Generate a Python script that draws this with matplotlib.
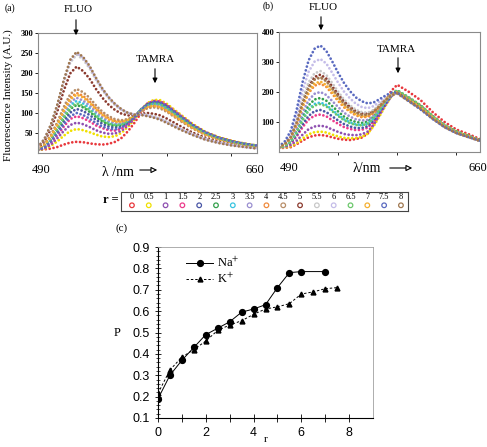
import numpy as np
import matplotlib
matplotlib.use('Agg')
import matplotlib.pyplot as plt

plt.rcParams['font.family'] = 'serif'
plt.rcParams['font.serif'] = ['Liberation Serif', 'DejaVu Serif']
plt.rcParams['mathtext.fontset'] = 'stix'

# wavelength grid (nm) the spectra were read at
wl = [490, 495, 500, 505, 510, 515, 520, 525, 530, 535, 540, 545, 550, 555,
      560, 565, 570, 575, 580, 585, 590, 600, 610, 620, 630, 640, 650, 660]

r_labels = ['0', '0.5', '1', '1.5', '2', '2.5', '3', '3.5', '4', '4.5',
            '5', '5.5', '6', '6.5', '7', '7.5', '8']
r_colors = ['#e8383d', '#f0e000', '#8e4fb0', '#ec3c8c', '#4a56a6', '#34a04c',
            '#38c4e0', '#9a8fd0', '#f08a3c', '#b88e68', '#8b3a2e', '#c8c8c8',
            '#c4bce8', '#6cc86c', '#f5b030', '#5a6ac0', '#a07850']

# panel (a) spectra, one list per r
a_0 = [8, 9, 11, 15, 21, 26, 28, 27, 24, 22, 21, 23, 28, 38, 55, 76, 100, 118, 128, 127, 119, 95, 70, 51, 39, 30, 23, 18]
a_05 = [6, 10, 18, 29, 43, 55, 60, 57, 52, 46, 41, 40, 42, 51, 66, 85, 107, 125, 133, 132, 123, 98, 73, 53, 40, 31, 24, 19]
a_1 = [7, 11, 21, 37, 55, 70, 76, 72, 65, 57, 51, 48, 49, 56, 69, 86, 107, 123, 130, 128, 120, 95, 71, 52, 39, 30, 23, 18]
a_15 = [8, 13, 26, 44, 66, 85, 92, 87, 79, 69, 62, 57, 56, 61, 73, 90, 109, 124, 130, 129, 120, 95, 71, 52, 39, 30, 23, 18]
a_2 = [8, 15, 31, 53, 79, 101, 110, 105, 95, 83, 73, 66, 64, 67, 77, 91, 109, 122, 128, 125, 117, 92, 69, 51, 38, 29, 23, 18]
a_25 = [9, 17, 34, 58, 86, 110, 120, 114, 103, 90, 79, 71, 68, 70, 79, 92, 108, 121, 125, 123, 114, 90, 68, 50, 37, 29, 22, 17]
a_3 = [9, 18, 36, 62, 94, 120, 130, 124, 112, 97, 85, 76, 72, 73, 81, 93, 108, 119, 123, 121, 112, 89, 67, 49, 37, 28, 22, 17]
a_35 = [9, 19, 39, 66, 99, 127, 138, 131, 119, 103, 90, 80, 75, 75, 82, 93, 107, 117, 121, 118, 109, 86, 65, 48, 36, 27, 21, 17]
a_4 = [9, 21, 42, 72, 108, 138, 150, 143, 129, 112, 97, 87, 80, 79, 84, 93, 105, 114, 117, 114, 105, 83, 63, 46, 34, 27, 21, 16]
a_45 = [10, 22, 45, 77, 115, 147, 160, 152, 138, 119, 103, 92, 84, 82, 85, 93, 104, 112, 114, 111, 103, 81, 61, 45, 34, 26, 20, 16]
a_5 = [13, 30, 60, 104, 156, 199, 216, 205, 186, 160, 138, 120, 107, 98, 94, 95, 98, 100, 98, 94, 86, 68, 51, 38, 28, 22, 17, 13]
a_55 = [15, 34, 69, 118, 177, 226, 246, 234, 212, 183, 157, 136, 119, 107, 100, 96, 97, 95, 91, 86, 79, 62, 47, 35, 26, 20, 16, 12]
a_6 = [15, 35, 70, 120, 180, 230, 250, 238, 215, 186, 159, 138, 121, 108, 100, 96, 96, 94, 90, 85, 77, 61, 46, 34, 26, 20, 15, 12]
a_65 = [9, 17, 35, 60, 89, 114, 124, 118, 107, 93, 81, 73, 70, 71, 79, 92, 108, 119, 124, 122, 113, 89, 67, 49, 37, 28, 22, 17]
a_7 = [9, 20, 41, 70, 105, 134, 146, 139, 126, 109, 95, 84, 78, 78, 83, 93, 106, 115, 118, 115, 106, 84, 63, 46, 35, 27, 21, 16]
a_75 = [8, 14, 28, 48, 72, 92, 100, 95, 86, 75, 66, 61, 59, 64, 74, 90, 108, 122, 128, 126, 117, 93, 70, 51, 38, 29, 23, 18]
a_8 = [15, 35, 71, 121, 182, 233, 253, 240, 218, 188, 161, 139, 122, 109, 100, 96, 95, 92, 88, 83, 75, 59, 45, 33, 25, 19, 15, 11]

# panel (b) spectra
b_0 = [13, 14, 16, 26, 38, 49, 55, 57, 54, 49, 44, 41, 40, 43, 48, 61, 90, 128, 168, 204, 224, 200, 172, 133, 100, 75, 60, 43]
b_05 = [13, 15, 19, 30, 45, 59, 66, 68, 65, 58, 52, 47, 46, 46, 50, 61, 86, 119, 154, 185, 201, 179, 155, 119, 89, 68, 54, 38]
b_1 = [14, 17, 23, 38, 58, 76, 85, 88, 84, 75, 67, 60, 57, 56, 59, 68, 91, 123, 156, 186, 201, 179, 154, 119, 89, 67, 53, 38]
b_15 = [14, 18, 28, 52, 83, 108, 121, 125, 119, 106, 94, 83, 77, 73, 74, 81, 102, 131, 161, 189, 202, 179, 153, 118, 89, 67, 53, 38]
b_2 = [15, 19, 31, 57, 92, 120, 136, 140, 133, 119, 105, 93, 85, 80, 80, 86, 105, 133, 162, 187, 200, 176, 151, 116, 87, 66, 53, 38]
b_25 = [15, 22, 38, 72, 119, 155, 175, 180, 171, 153, 135, 118, 107, 100, 97, 101, 118, 144, 171, 194, 205, 180, 153, 119, 89, 68, 54, 39]
b_3 = [15, 20, 35, 67, 109, 142, 160, 165, 157, 140, 124, 109, 99, 92, 90, 95, 112, 138, 165, 189, 200, 175, 150, 116, 87, 66, 52, 38]
b_35 = [16, 22, 42, 80, 132, 172, 194, 200, 190, 170, 150, 131, 118, 109, 105, 107, 122, 144, 168, 189, 198, 173, 147, 114, 86, 65, 52, 38]
b_4 = [16, 25, 47, 91, 151, 196, 221, 228, 217, 194, 170, 149, 134, 122, 116, 117, 130, 151, 173, 192, 200, 174, 147, 114, 86, 65, 52, 38]
b_45 = [17, 26, 51, 100, 165, 215, 243, 250, 238, 213, 186, 163, 146, 132, 125, 125, 136, 154, 174, 192, 198, 172, 145, 113, 85, 64, 51, 38]
b_5 = [17, 27, 53, 103, 170, 222, 250, 258, 245, 219, 192, 168, 150, 136, 129, 128, 138, 156, 175, 192, 198, 171, 145, 113, 84, 64, 51, 37]
b_55 = [18, 28, 55, 108, 178, 232, 262, 270, 257, 230, 201, 175, 156, 141, 133, 131, 140, 157, 175, 190, 195, 168, 142, 110, 83, 63, 50, 37]
b_6 = [18, 31, 62, 124, 205, 267, 301, 310, 295, 264, 231, 201, 179, 161, 150, 146, 153, 167, 182, 195, 198, 171, 143, 112, 84, 64, 51, 38]
b_65 = [15, 20, 34, 64, 106, 138, 155, 160, 152, 136, 120, 106, 96, 90, 89, 94, 113, 140, 169, 194, 206, 182, 155, 120, 90, 68, 54, 39]
b_7 = [16, 25, 48, 94, 155, 202, 228, 235, 223, 200, 175, 153, 137, 125, 119, 120, 132, 152, 174, 193, 200, 174, 148, 115, 86, 65, 52, 38]
b_75 = [18, 36, 71, 142, 234, 305, 344, 355, 337, 302, 264, 230, 203, 182, 169, 162, 165, 176, 188, 198, 198, 169, 141, 110, 83, 63, 50, 38]
b_8 = [17, 26, 50, 99, 164, 213, 241, 248, 236, 211, 185, 161, 144, 131, 124, 124, 134, 152, 172, 189, 195, 169, 143, 111, 83, 63, 50, 37]

spec_a = [a_0, a_05, a_1, a_15, a_2, a_25, a_3, a_35, a_4, a_45, a_5, a_55, a_6, a_65, a_7, a_75, a_8]
spec_b = [b_0, b_05, b_1, b_15, b_2, b_25, b_3, b_35, b_4, b_45, b_5, b_55, b_6, b_65, b_7, b_75, b_8]

# panel (c)
r_na = [0, 0.5, 1, 1.5, 2, 2.5, 3, 3.5, 4, 4.5, 5, 5.5, 6, 7]
p_na = [0.19, 0.30, 0.37, 0.43, 0.49, 0.52, 0.55, 0.595, 0.61, 0.63, 0.71, 0.78, 0.785, 0.785]
r_k = [0, 0.5, 1, 1.5, 2, 2.5, 3, 3.5, 4, 4.5, 5, 5.5, 6, 6.5, 7, 7.5]
p_k = [0.215, 0.325, 0.385, 0.42, 0.46, 0.51, 0.535, 0.555, 0.585, 0.61, 0.62, 0.635, 0.68, 0.69, 0.705, 0.71]

W, H = 487, 447
fig = plt.figure(figsize=(W / 100, H / 100), dpi=100)


def fp(x, y):
    # image pixel (top-left origin) -> figure fraction
    return (x / W, 1 - y / H)


def box(l, t, r, b):
    return [l / W, 1 - b / H, (r - l) / W, (b - t) / H]


def spectra_axes(rect, spec, ymax, yt):
    ax = fig.add_axes(rect)
    for y, c in zip(spec, r_colors):
        ax.plot(wl, y, color=c, lw=2.0, ls=(0, (0.01, 1.4)),
                dash_capstyle='round')
    ax.set_xlim(490, 660)
    ax.set_ylim(0, ymax)
    ax.set_xticks([540, 590, 640])
    ax.set_xticklabels([])
    ax.set_yticks(yt)
    ax.tick_params(labelsize=6, length=2, width=0.6, pad=1.5)
    for lab in ax.get_yticklabels():
        lab.set_fontweight('bold')
    for s in ax.spines.values():
        s.set_color('#8a8a8a')
        s.set_linewidth(0.8)
    return ax


ax_a = spectra_axes(box(38, 33, 257, 153), spec_a, 300, [50, 100, 150, 200, 250, 300])
ax_b = spectra_axes(box(279, 32, 480, 152), spec_b, 400, [100, 200, 300, 400])

fig.text(*fp(8, 95), 'Fluorescence Intensity (A.U.)', rotation=90,
         ha='center', va='center', fontsize=8)

arrow_k = dict(arrowstyle='-|>', color='k', lw=0.8, mutation_scale=7)
arrow_w = dict(arrowstyle='-|>', fc='white', ec='k', lw=0.8, mutation_scale=9)


def label_arrow(txt, xt, yt, y0, y1, xa=None):
    xa = xt if xa is None else xa
    fig.text(*fp(xt, yt), txt, ha='center', va='center', fontsize=8)
    fig.add_artist(matplotlib.patches.FancyArrowPatch(
        fp(xa, y0), fp(xa, y1), transform=fig.transFigure, **arrow_k))


label_arrow('FLUO', 78, 10, 17, 38, 76)
label_arrow('TAMRA', 155, 60, 66, 86)
label_arrow('FLUO', 323, 7, 14, 33, 321)
label_arrow('TAMRA', 396, 49, 55, 76, 398)

fig.text(*fp(5, 8), '(a)', ha='left', va='center', fontsize=7)
fig.text(*fp(263, 6), '(b)', ha='left', va='center', fontsize=7)

fig.text(*fp(41, 170), '490', ha='center', va='center', fontsize=9)
fig.text(*fp(255, 170), '660', ha='center', va='center', fontsize=9)
fig.text(*fp(289, 168), '490', ha='center', va='center', fontsize=9)
fig.text(*fp(478, 168), '660', ha='center', va='center', fontsize=9)

fig.text(*fp(118, 172), 'λ /nm', ha='center', va='center', fontsize=10)
fig.add_artist(matplotlib.patches.FancyArrowPatch(
    fp(137, 170), fp(160, 170), transform=fig.transFigure, **arrow_w))
fig.text(*fp(367, 168), 'λ/nm', ha='center', va='center', fontsize=10)
fig.add_artist(matplotlib.patches.FancyArrowPatch(
    fp(387, 168), fp(415, 168), transform=fig.transFigure, **arrow_w))

# colour key table
ax_t = fig.add_axes(box(121, 192, 408, 211))
ax_t.set_xlim(-0.65, 16.42)
ax_t.set_ylim(0, 1)
ax_t.set_xticks([])
ax_t.set_yticks([])
for s in ax_t.spines.values():
    s.set_color('#444444')
    s.set_linewidth(0.8)
for i, lab in enumerate(r_labels):
    ax_t.text(i, 0.74, lab, ha='center', va='center', fontsize=6)
ax_t.scatter(range(len(r_labels)), [0.3] * len(r_labels), s=11,
             facecolors='none', edgecolors=r_colors, linewidths=0.9)
fig.text(*fp(111, 200), 'r =', ha='center', va='center', fontsize=9, fontweight='bold')

fig.text(*fp(116, 228), '(c)', ha='left', va='center', fontsize=8)

# panel (c)
ax_c = fig.add_axes(box(158, 247, 373, 418))
ax_c.plot(r_na, p_na, '-o', color='k', ms=4.2, lw=0.7, label='Na$^{+}$')
ax_c.plot(r_k, p_k, '--^', color='k', ms=3.5, lw=0.7, dashes=(2.5, 2),
          label='K$^{+}$')
ax_c.set_xlim(0, 9)
ax_c.set_ylim(0.1, 0.9)
ax_c.set_xticks([0, 2, 4, 6, 8])
ax_c.set_xticks([1, 3, 5, 7], minor=True)
ax_c.set_yticks(np.arange(0.1, 0.91, 0.1))
ax_c.set_yticks(np.arange(0.1, 0.9, 0.02), minor=True)
ax_c.yaxis.set_major_formatter(matplotlib.ticker.FormatStrFormatter('%.1f'))
ax_c.tick_params(axis='x', which='both', direction='inout', length=6, width=0.6)
ax_c.tick_params(axis='y', which='major', direction='inout', length=5, width=0.6)
ax_c.tick_params(axis='y', which='minor', direction='inout', length=2.5, width=0.5)
ax_c.tick_params(labelsize=9, labelfontfamily='Liberation Sans')
for k in ('top', 'right'):
    ax_c.spines[k].set_color('#a0a0a0')
    ax_c.spines[k].set_linewidth(0.6)
for k in ('left', 'bottom'):
    ax_c.spines[k].set_linewidth(0.8)
ax_c.set_ylabel('P', rotation=0, fontsize=9, va='center')
ax_c.yaxis.set_label_coords(-0.19, 0.5)
ax_c.set_xlabel('r', fontsize=8, va='center')
ax_c.xaxis.set_label_coords(0.5, -0.125)
ax_c.legend(loc='upper left', bbox_to_anchor=(0.1, 0.985), frameon=False,
            prop={'size': 9}, handlelength=2.2, labelspacing=0.15,
            borderpad=0, handletextpad=0.3)

fig.savefig('out.png', dpi=100)
